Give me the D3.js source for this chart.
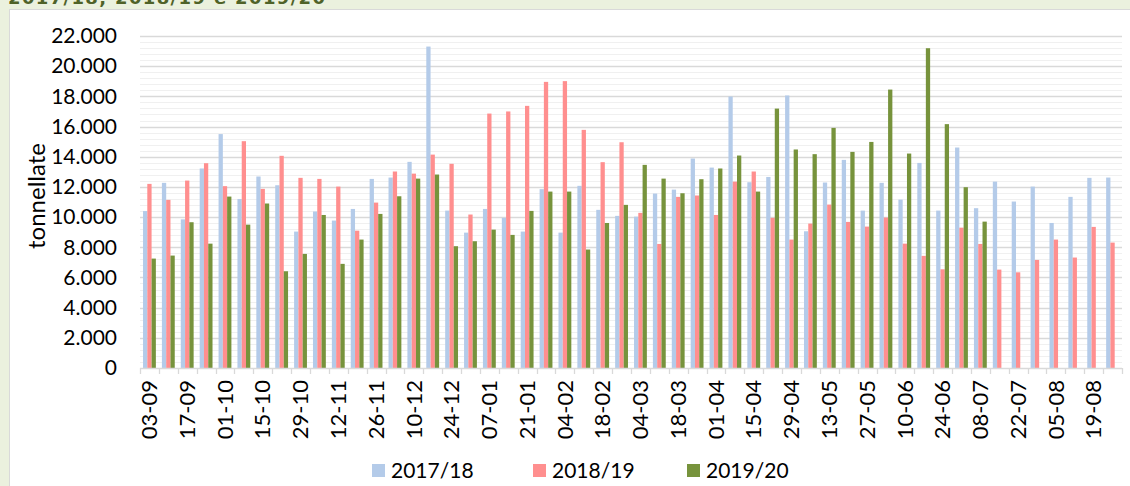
<!DOCTYPE html>
<html>
<head>
<meta charset="utf-8">
<script src="https://cdn.jsdelivr.net/npm/d3@7"></script>
<style>
  body { margin: 0; background: #fff; }
  text { font-family: Lato, "Open Sans", sans-serif; }
</style>
</head>
<body>
<div id="chart-area"></div>
<script>
// settimane (lunedi) da 03-09 a 26-08
var weeks = ["03-09","10-09","17-09","24-09","01-10","08-10","15-10","22-10","29-10","05-11",
  "12-11","19-11","26-11","03-12","10-12","17-12","24-12","31-12","07-01","14-01",
  "21-01","28-01","04-02","11-02","18-02","25-02","04-03","11-03","18-03","25-03",
  "01-04","08-04","15-04","22-04","29-04","06-05","13-05","20-05","27-05","03-06",
  "10-06","17-06","24-06","01-07","08-07","15-07","22-07","29-07","05-08","12-08",
  "19-08","26-08"];

var seriesNames = ["2017/18", "2018/19", "2019/20"];

var s1718 = [10400,12270,9850,13220,15500,11200,12690,12110,9040,10370,
  9770,10540,12530,12620,13660,21300,10430,8970,10540,9950,
  9040,11850,8970,12070,10480,10080,10030,11560,11820,13880,
  13280,17990,12310,12660,18060,9060,12290,13790,10430,12270,
  11160,13590,10430,14610,10590,12350,11030,12020,9610,11340,
  12600,12620];

var s1819 = [12200,11140,12420,13570,12050,15030,11870,14060,12600,12530,
  12020,9100,10960,13020,12880,14140,13530,10170,16860,17000,
  17370,18960,19010,15780,13640,14960,10280,8220,11340,11430,
  10140,12350,13020,9950,8510,9570,10830,9680,9370,9970,
  8240,7430,6540,9300,8220,6520,6340,7160,8510,7320,
  9350,8310];

var s1920 = [7250,7450,9660,8240,11360,9500,10900,6410,7560,10140,
  6900,8510,10210,11380,12550,12820,8070,8400,9170,8820,
  10410,11690,11690,7850,9610,10810,13460,12550,11580,12510,
  13220,14080,11690,17190,14480,14170,15910,14320,14980,18450,
  14210,21190,16160,11980,9700,null,null,null,null,null,
  null,null];

var yTicks = [0,2000,4000,6000,8000,10000,12000,14000,16000,18000,20000,22000];
var labelWeeks = weeks.filter((w, i) => i % 2 == 0);

var colors = ["#B4CBE9", "#FF8F8F", "#77933C"];
var allSeries = [s1718, s1819, s1920];

var svgWidth = 1130, svgHeight = 486;
var plot = {left: 140, right: 1122, top: 36, bottom: 368};

var canvas = d3.select("#chart-area").append("svg")
  .attr("width", svgWidth)
  .attr("height", svgHeight);

// cornice
canvas.append("rect").attr("width", svgWidth).attr("height", svgHeight).attr("fill", "#EBF1DE");
canvas.append("rect")
  .attr("x", 9.5).attr("y", 9.5)
  .attr("width", svgWidth).attr("height", svgHeight)
  .attr("fill", "#fff").attr("stroke", "#D9D9D9");

canvas.append("text")
  .attr("x", 8).attr("y", 4)
  .style("font-family", "'DejaVu Sans', sans-serif")
  .attr("font-size", 18).attr("font-weight", "bold")
  .attr("fill", "#4F6228")
  .attr("textLength", 317)
  .text("2017/18, 2018/19 e 2019/20");

var locale = d3.formatLocale({decimal: ",", thousands: ".", grouping: [3], currency: ["", "€"]});
var fmt = locale.format(",d");

var yScale = d3.scaleLinear().domain([0, 22000]).range([plot.bottom, plot.top]);
var x0 = d3.scaleBand().domain(weeks).range([plot.left, plot.right]).padding(0);
var bw = x0.bandwidth();
var x1 = d3.scaleBand().domain(seriesNames).range([bw * 0.16, bw * 0.84]);

// griglia secondaria e principale
var minor = d3.range(400, 22001, 400).filter(v => v % 2000 != 0);
canvas.append("g").selectAll("line").data(minor).enter().append("line")
  .attr("x1", plot.left).attr("x2", plot.right)
  .attr("y1", d => Math.round(yScale(d)) + 0.5).attr("y2", d => Math.round(yScale(d)) + 0.5)
  .attr("stroke", "#F0F0F0").attr("stroke-width", 1.2);

canvas.append("g").selectAll("line").data(yTicks.slice(1)).enter().append("line")
  .attr("x1", plot.left).attr("x2", plot.right)
  .attr("y1", d => Math.round(yScale(d)) + 0.5).attr("y2", d => Math.round(yScale(d)) + 0.5)
  .attr("stroke", "#D9D9D9").attr("stroke-width", 1.3);

var yAxis = d3.axisLeft(yScale).tickValues(yTicks).tickFormat(fmt).tickSize(0).tickPadding(23);
var yAxisGroup = canvas.append("g")
  .attr("transform", "translate(" + plot.left + ",0)")
  .call(yAxis);
yAxisGroup.select(".domain").remove();
yAxisGroup.selectAll("text").attr("font-size", 21).attr("fill", "#000")
  .style("font-family", "Lato, sans-serif");

canvas.append("text")
  .attr("transform", "translate(45,196) rotate(-90)")
  .attr("text-anchor", "middle")
  .attr("font-size", 24)
  .text("tonnellate");

// barre
seriesNames.forEach((name, s) => {
  canvas.append("g").selectAll("rect")
    .data(weeks.map((w, i) => ({week: w, value: allSeries[s][i]})).filter(d => d.value !== null))
    .enter().append("rect")
    .attr("x", d => x0(d.week) + x1(name))
    .attr("y", d => yScale(d.value))
    .attr("width", x1.bandwidth())
    .attr("height", d => yScale(0) - yScale(d.value))
    .attr("fill", colors[s]);
});

// asse x
canvas.append("line")
  .attr("x1", plot.left).attr("x2", plot.right)
  .attr("y1", plot.bottom + 0.5).attr("y2", plot.bottom + 0.5)
  .attr("stroke", "#D9D9D9").attr("stroke-width", 1.3);
canvas.append("g").selectAll("line").data(d3.range(weeks.length + 1)).enter().append("line")
  .attr("x1", d => Math.round(plot.left + d * x0.step()) + 0.5)
  .attr("x2", d => Math.round(plot.left + d * x0.step()) + 0.5)
  .attr("y1", plot.bottom).attr("y2", plot.bottom + 6)
  .attr("stroke", "#D9D9D9").attr("stroke-width", 1.3);

var xAxis = d3.axisBottom(x0).tickValues(labelWeeks).tickSize(0);
var xAxisGroup = canvas.append("g")
  .attr("transform", "translate(0," + plot.bottom + ")")
  .call(xAxis);
xAxisGroup.select(".domain").remove();
xAxisGroup.selectAll("text")
  .attr("font-size", 22).attr("fill", "#000")
  .style("font-family", "Lato, sans-serif")
  .attr("text-anchor", "end")
  .attr("transform", "rotate(-90)")
  .attr("x", -12).attr("y", 0).attr("dy", "0.35em");

// legenda
var legendX = [372, 533, 687];
seriesNames.forEach((name, i) => {
  var row = canvas.append("g").attr("transform", "translate(" + legendX[i] + ",464)");
  row.append("rect").attr("width", 13).attr("height", 13).attr("fill", colors[i]);
  row.append("text").attr("x", 19).attr("y", 6.5).attr("dy", "0.35em")
    .attr("font-size", 21).text(name);
});
</script>
</body>
</html>
